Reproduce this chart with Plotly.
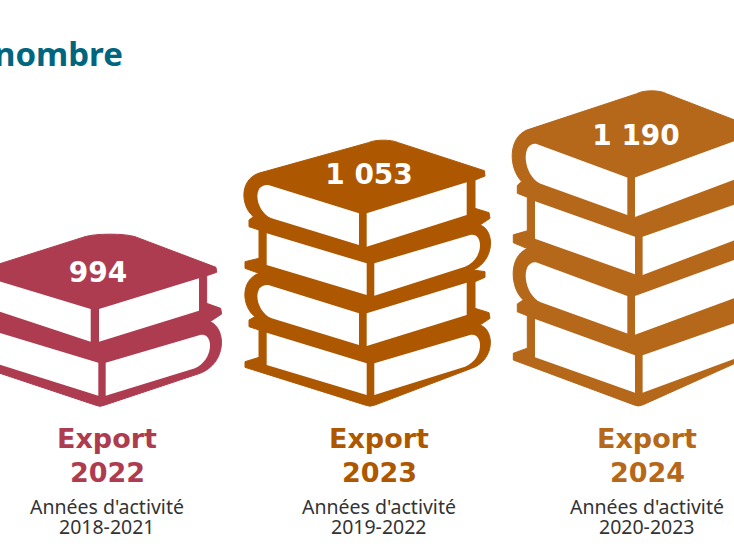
import plotly.graph_objects as go

# ---- data ----
export_word = "Export"
export_years = ["2022", "2023", "2024"]
counts = ["994", "1 053", "1 190"]
activity_word = "Années d'activité"
activity_years = ["2018-2021", "2019-2022", "2020-2023"]
colors = ["#AE3C50", "#AD5800", "#B5671A"]
title_text = "nombre"

# ---- layout of the pictogram ----
label_x = [107, 379, 647]
count_x = [98, 369, 636]
count_y = [272, 174, 135]

# Book-stack outlines, in crop-pixel units (3 units = 1 px)
FOUR_OUTLINE = ("M 400 38 C 420 28 470 28 490 38 L 748 122 L 750 138 L 720 150 L 720 235 L 762 248 L 765 265 L 735 285 "
    "C 780 300 780 390 715 420 L 750 425 L 750 442 L 720 455 L 720 535 L 762 548 L 765 565 L 735 585 "
    "C 780 600 780 690 710 715 L 420 825 Q 405 832 390 825 L 30 712 L 30 695 L 72 682 L 72 600 L 42 590 L 42 570 L 60 560 "
    "C 20 530 15 450 72 430 L 30 415 L 30 395 L 72 385 L 72 300 L 42 290 L 42 270 L 55 260 "
    "C 15 225 15 150 70 130 Z")
FOUR_PAGES = [
    "M 100 165 L 372 250 L 372 345 L 110 265 C 60 245 50 160 100 165 Z",
    "M 395 250 L 695 157 L 695 255 L 395 350 Z",
    "M 95 310 L 395 400 L 395 495 L 95 405 Z",
    "M 418 400 L 705 315 C 745 305 750 385 690 410 L 418 497 Z",
    "M 100 465 L 372 550 L 372 645 L 110 565 C 60 545 50 460 100 465 Z",
    "M 395 550 L 695 458 L 695 555 L 395 648 Z",
    "M 95 608 L 395 700 L 395 795 L 95 705 Z",
    "M 418 700 L 705 615 C 745 605 750 685 690 710 L 418 795 Z",
]
TWO_OUTLINE = ("M -60 90 L 255 -10 C 285 -20 375 -20 405 -10 L 648 82 L 650 97 L 620 107 L 620 190 L 662 205 L 665 222 L 630 245 "
    "C 680 265 680 370 600 400 L 315 495 Q 300 503 285 495 L -60 380 Z")
TWO_PAGES = [
    "M -30 115 L 272 207 L 272 305 L -30 205 Z",
    "M 297 207 L 597 115 L 597 212 L 297 305 Z",
    "M -30 270 L 295 368 L 295 467 L -30 365 Z",
    "M 317 368 L 600 285 C 640 275 645 355 585 385 L 317 467 Z",
]
# which drawing each stack uses, with its origin and vertical stretch
stacks = [
    (TWO_OUTLINE, TWO_PAGES, 0, 240, 1.0),
    (FOUR_OUTLINE, FOUR_PAGES, 235, 130, 1.0),
    (FOUR_OUTLINE, FOUR_PAGES, 503.3, 130, 1.185),
]
BASE_Y = 407


def convert(path, ox, oy, stretch):
    out, is_x = [], True
    for tok in path.split():
        if tok.isalpha():
            out.append(tok)
        elif is_x:
            out.append(f"{ox + float(tok) / 3:.2f}")
            is_x = False
        else:
            y = oy + float(tok) / 3
            out.append(f"{BASE_Y - (BASE_Y - y) * stretch:.2f}")
            is_x = True
    return " ".join(out)


shapes = []
for (outline, pages, ox, oy, st), col in zip(stacks, colors):
    shapes.append(dict(type="path", path=convert(outline, ox, oy, st), fillcolor=col,
                       line=dict(color=col, width=1), xref="x", yref="y", layer="below"))
    for p in pages:
        shapes.append(dict(type="path", path=convert(p, ox, oy, st), fillcolor="white",
                           line=dict(color="white", width=0), xref="x", yref="y", layer="below"))

fig = go.Figure()


def label(x, y, text, family, size, color, weight=400, anchor="center"):
    fig.add_annotation(x=x, y=y, text=text, showarrow=False, xanchor=anchor, yanchor="middle",
                       font=dict(family=family, size=size, color=color, weight=weight))


for i in range(3):
    fig.add_trace(go.Scatter(x=[count_x[i]], y=[count_y[i] + 3], mode="text", text=[counts[i]],
                             textposition="middle center", hoverinfo="skip",
                             textfont=dict(family="DejaVu Sans", size=28, color="white", weight=700)))
    label(label_x[i], 438, export_word, "DejaVu Sans", 27, colors[i], 700)
    label(label_x[i], 472, export_years[i], "DejaVu Sans", 27, colors[i], 700)
    label(label_x[i], 506, activity_word, "Noto Sans", 19.5, "#333333")
    label(label_x[i], 526, activity_years[i], "Noto Sans", 19.5, "#333333")
label(125, 53, title_text, "Noto Sans", 33, "#00667F", 700, "right")

fig.update_layout(width=734, height=551, margin=dict(l=0, r=0, t=0, b=0), showlegend=False,
                  paper_bgcolor="white", plot_bgcolor="white", shapes=shapes,
                  xaxis=dict(range=[0, 734], visible=False, fixedrange=True),
                  yaxis=dict(range=[551, 0], visible=False, fixedrange=True))
fig.write_html("out.html", config=dict(displayModeBar=False),
               post_script="document.body.style.margin='0';document.documentElement.style.overflow='hidden';")
